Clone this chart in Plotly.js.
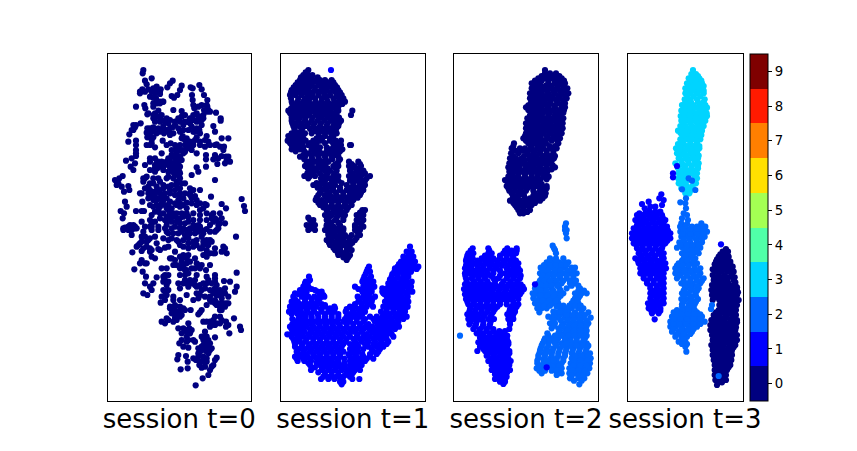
<!DOCTYPE html>
<html><head><meta charset="utf-8">
<script src="https://cdn.plot.ly/plotly-3.0.1.min.js"></script>
<style>html,body{margin:0;padding:0;background:#fff}</style></head>
<body><div id="c" style="width:857px;height:451px"></div>
<script>
const classColors=['#000080','#0000ff','#0066ff','#00d4ff','#50ffa8','#a4ff53','#ffe000','#ff7f00','#ff1a00','#7f0000'];
const tickLabels=[0,1,2,3,4,5,6,7,8,9];
const titles=['session t=0','session t=1','session t=2','session t=3'];
const LOW=525; // readings from the lower half carry this offset
// session 0, class 0: x,y readings
const s0Upper=[130,60,128,70,155,85,135,92,140,103,120,125,127,118,145,118,160,115,170,122,182,118,165,130,150,140,160,143,175,128,218,92,210,100,202,112,245,107,240,120,232,135,222,143,215,138,272,112,278,115,276,135,278,150,298,105,305,118,312,135,322,150,108,170,133,165,136,175,160,170,172,160,188,155,142,193,165,190,175,182,185,195,220,180,245,183,255,195,270,205,262,215,283,175,290,190,300,200,312,180,322,170,330,185,348,188,362,205,362,212,
122,220,108,225,100,240,105,232,165,215,180,215,190,228,205,220,218,232,235,205,250,225,275,230,290,215,305,225,298,240,340,228,345,245,142,235,140,248,160,232,155,245,178,245,192,250,220,250,240,245,248,258,
88,253,85,275,108,272,108,285,108,300,142,262,140,285,155,280,165,292,188,272,200,285,212,280,290,262,285,270,320,258,315,270,265,275,255,285,240,285,232,295,248,300,262,295,300,285,315,290,330,285,350,283,365,265,385,265,372,290,
108,310,108,318,78,332,95,325,105,340,92,350,100,360,135,345,150,325,165,325,175,335,185,310,205,325,230,310,225,325,240,320,255,305,275,300,290,310,318,315,318,328,345,315,340,328,352,342,365,318,378,320,390,335,375,340,318,350,222,340,210,350,195,345,180,350,165,345,150,360,165,365,205,365,228,355,240,350,290,352,295,365,275,375,222,370,232,332,215,362,
345,390,68,378,45,390,58,385,55,400,65,410,50,405,85,408,88,420,72,425,135,385,130,395,150,400,180,395,200,385,220,385,240,385,255,400,170,410,150,420,135,415,125,430,190,415,215,405,240,415,270,415,300,420,285,438,333,440,
425,447,432,468,435,483,75,455,80,470,62,483,72,490,68,505,108,483,125,483,132,483,165,440,145,445,180,445,200,445,235,450,260,458,275,460,290,465,127,455,150,465,170,465,195,465,215,475,240,470,260,475,320,465,310,475,365,462,378,475,165,485,190,490,210,490,230,490,280,490,300,495,340,490,360,490,365,505,180,505,155,520,205,510,230,515,125,515,255,520,280,510,300,510,320,510,340,515,350,510,375,520,100,525,85,530,70,535];
const s0UpperMore=[215,300,225,300,215,315,235,340,222,350,238,365,210,335,200,335,185,335,172,355,190,360,205,380,230,395,240,370,225,375,250,310,262,285,280,285,270,290,150,258,160,262,170,250,250,240,255,270,200,240,210,255,300,250,280,245,265,240,290,235,270,220,255,215,310,205,298,212,175,200,200,205,160,205,245,200,280,195,280,165,295,170,305,165,320,165,325,180,170,155,180,160,155,125,180,132,168,145,190,155,
145,430,165,425,180,430,190,435,210,430,225,435,240,440,255,430,210,455,190,450,160,450,250,445,275,445,270,435,170,450,200,475,180,470,230,465,260,490,250,500,265,500,280,525,295,525,300,530,215,500,195,510,200,525,225,500,240,505,320,490,335,505,355,525,360,520,90,525,105,535,155,530,150,510,165,515,250,535,270,535,285,535,225,530];
const s0UpperFill=[195,215,210,235,225,225,235,235,265,215,275,205,285,245,305,210,310,195,320,185,245,265,260,265,270,275,240,300,225,285,160,240,150,235,175,235,190,240,205,245,150,285,155,270,95,240,100,225,300,275,325,275,345,285,360,290,370,300,385,320,380,330,345,325,355,325,245,330,235,320,220,320,215,340,150,335,170,340,180,345,190,340,165,355,210,360,225,365,235,375,130,385,140,380,160,385,175,385,160,400,190,405,205,410,230,405,245,400,270,430,280,420,240,430,225,420,210,420,195,430,180,420,165,430,155,435,145,410,120,430,290,450,300,460,315,462,225,460,205,465,185,460,240,460,250,465,160,470,175,480,205,480,220,490,245,490,300,480,345,505,335,495,215,515,240,520,265,515,330,525,155,495,180,490,200,500,120,130,135,125,170,110,180,125,160,160,180,155,145,190,160,195,170,200,185,210,210,210,225,215,240,215,280,210,295,205];
const s0Lower=[70,15,85,15,100,10,105,5,95,30,130,20,150,5,175,15,165,35,200,20,215,40,190,40,240,10,260,15,280,10,300,10,320,12,350,15,408,35,
145,45,125,50,115,60,130,70,150,70,175,72,205,65,225,80,235,50,250,45,265,40,290,45,305,35,330,45,300,70,320,75,345,85,370,65,380,85,97,82,
125,105,135,115,155,95,165,100,210,100,245,100,265,90,285,100,320,95,340,85,120,115,140,115,185,130,220,120,240,125,255,135,290,115,300,130,318,135,330,120,410,143,103,133,128,140,138,155,170,157,
195,150,205,150,190,170,200,180,235,175,255,165,285,165,265,185,290,185,320,155,345,150,345,160,372,168,390,170,135,175,150,185,160,175,130,205,142,210,155,195,195,200,240,190,310,175,305,195,335,175,350,180,410,185,405,200,340,205,360,195,375,190,350,195,365,208,
185,215,195,225,182,233,220,225,240,225,260,210,280,225,295,220,330,215,345,225,365,220,380,235,385,215,355,210,372,235,
210,245,220,255,240,245,255,255,272,255,320,240,330,225,355,235,360,255,305,255,295,268,225,270,240,275,200,280,185,290,195,295,220,290,
235,310,245,270,265,295,310,290,330,290,345,300,360,295,378,290,378,305,402,280,420,305,423,315,388,325,330,305,
245,325,260,320,275,315,265,345,285,350,318,335,310,345,345,337,238,355,250,365,265,368,305,365,320,370,330,375,315,352,325,358,318,378,
235,390,232,403,258,393,295,385,310,395,350,398,345,405,288,405,298,420,320,410,263,410,263,430,242,433,305,428,340,420,330,435,325,450,308,460,287,481];
const s0LowerMore=[75,8,90,5,95,15,110,10,155,15,135,5,175,5,195,10,205,25,220,25,215,10,235,25,245,20,255,30,270,25,285,25,295,20,310,25,305,15,330,20,345,20,355,10,230,45,240,60,265,55,280,50,310,50,325,60,335,50,320,45,310,60,345,70,330,85,310,90,320,85,365,80,375,70,155,75,140,65,125,78,120,55,110,65,180,75,195,68,150,80,215,100,250,90,260,100,240,130,245,110,295,120,305,120,230,120,275,130,265,145,255,150,250,175,260,175,275,175,285,180,270,165,300,180,320,175,315,190,345,190,355,200,365,205,375,205,350,210,335,230,345,235,365,235,375,245,385,235,330,195,195,165,205,170,190,195,200,210,220,215,210,250,225,245,235,265,230,260,215,265,240,260,205,285,225,280,300,262,320,290,335,300,350,295,365,285,385,300,340,285,260,315,270,325,250,310,268,310,280,345,260,350,315,320,305,335,325,345,310,360,335,370,320,360,305,375,295,395,310,410,320,400,280,400,300,410,315,425,335,425];
const s0LowerFill=[135,35,150,40,125,35,140,50,170,55,205,45,250,65,265,70,280,65,290,60,305,70,240,95,225,105,260,115,270,110,250,125,240,150,260,135,290,150,285,130,345,170,325,165,200,130,190,155,205,195,300,210,290,205,315,215,225,240,250,250,230,285,350,240,360,245,365,255,360,275,345,275,320,335,330,355,315,370,300,380,295,370,325,385,260,335,245,345];
// rows: y, then x readings along that row
const s1Navy=[[60,100],[75,85,100,112],[90,75,90,105,120,135,150,170],[105,62,80,95,110,130,150,165,180],[120,50,65,85,100,120,138,155,175,190],[135,45,62,80,98,112,130,148,165,185,200],[155,50,68,85,100,122,140,158,178,195,210],[170,55,72,90,115,135,155,175,190],[182,40,60,78,95,110,130,150,165,190,232],[195,50,65,85,100,125,145,170,185,228],[212,50,70,90,110,128,148,168,185,198],[228,55,72,92,115,135,155,175,190],[243,60,78,120,140,160,178],[258,40,58,78,132,150,175],[272,38,55,72,92,115,135,165,182,198],[285,50,70,100,120,185,198,225,228],[298,50,75,110,125,165,185,202],[310,100,120,140,165,190],[320,75,90,110,130,150,170,190],[335,100,120,140,160,190,222,250],[348,90,110,130,145,175,190,222,238,258],[362,105,125,150,165,185,225,245,265],[378,88,105,120,148,175,190,222,240,258,285],[392,140,150,175,190,225,245,265,270],[405,115,135,160,180,215,235,255,270],[420,140,155,175,195,215,235,250,265],[435,130,148,165,185,205,225,240,255],[450,122,140,160,180,200,220,235],[465,135,150,170,190,210,230],[480,155,175,195,215,262,270],[495,150,170,190,210,245,265],[510,105,115,155,180,205,245,265],[525,95,108,120,155,170,195,240,260],
[530,100,115,155,175,195,240,265],[540,100,120,150,170,190,205,240,255],[555,160,175,195,210,230,255],[570,155,170,190,205,225,240],[585,165,185,205,225],[600,180,195,215,230],[615,190,205,225],[630,215],
[67,92],[82,78,93,108,128],[97,68,83,98,113,128,143,160,175],[112,56,72,88,103,120,140,158,172,186],[127,48,58,75,92,110,129,146,165,182,195],[145,48,70,90,105,120,140,155,175,192,205],[162,52,62,78,95,110,128,148,166,185,202],[176,48,65,82,102,125,145,165,182],[189,45,70,88,103,120,140,158,178],[203,50,58,75,92,112,135,158,178,192],[220,52,60,80,100,118,138,158,178,192],[236,58,82,105,128,148,168,184],[250,50,68,90,110,130,150,168,185],[265,48,65,85,125,142,165],[279,45,62,82,105,125,150,174,190],[292,62,85,110,135,155,175,195],[304,62,88,118,132,155,178,195],[315,85,110,130,152,178],[328,88,112,132,152,172,195],[342,95,110,132,152,182,230,255],[355,98,118,140,158,182,230,252],[370,97,115,135,158,178,232,252,270],[385,100,138,162,182,232,250,275],[399,125,148,170,200,235,255],[413,128,150,170,195,225,245,262],[428,135,162,182,205,225,245,258],[443,125,155,172,195,215,232,248],[458,130,150,170,190,210,228],[472,145,162,182,200,220],[488,160,182,202,255],[503,100,162,185,205,255],[518,112,168,190,250],[535,108,160,185,205,250],[548,160,180,198,248],[563,165,185,205,222,245],[578,162,180,198,215,232],[593,175,195,215],[608,188,200,215],[622,205,220]];
const s1Blue=[[590,405],[605,395,410],[620,385,400,415],[635,378,392,408,420],[650,282,368,385,400,415,430],[665,275,285,358,375,392,408],[680,268,288,102,350,368,385,400],[695,100,92,262,278,295,345,360,378,395,410],[710,85,100,240,265,282,298,340,355,372,390,408],[725,80,95,128,140,262,275,290,322,338,352,368,385,402,412],[740,55,80,100,118,135,148,248,265,282,300,335,350,365,380,398],[755,50,68,90,110,128,250,270,290,330,348,365,385,400],[770,45,62,85,105,125,150,178,225,240,260,275,294,325,345,365,380,398],[785,42,58,78,98,118,140,160,178,212,235,255,270,318,335,355,375,390],[800,75,92,110,130,150,170,190,215,235,255,285,305,322,342,360,378,395],[815,62,82,100,122,142,162,182,205,225,245,265,300,318,335,352,370],[830,45,60,78,95,115,135,155,175,195,215,235,255,272,292,312,330,350,372],[845,55,72,88,110,130,150,170,190,210,235,260,290,310,328,345],[853,37],[860,50,68,85,105,125,145,165,185,205,225,245,265,285,305,325,355],[875,58,75,92,115,135,155,175,195,212,240,260,280,300,320,340],[890,60,80,100,120,140,160,180,200,235,250,280,305,325],[905,65,85,105,125,145,165,185,205,235,250,295,310],[920,60,78,98,118,135,155,175,195,225,245,265,285],[933,68,88,108,130,150,170,190,225,245,270],[945,105,135,155,175,195,225,245,260],[960,108,140,160,180,200,222,240,255],[975,150,170,190,210,230],[987,138,160,178,200,232,253],[1003,200],[60,168],
[612,402],[628,392,408],[642,372,385,400,414],[657,278,362,380,396,412,425],[672,272,352,368,385,400],[688,265,280,345,360,378,392],[702,95,270,287,350,368,385,402],[717,90,110,250,272,290,330,346,362,380,400],[732,70,88,135,268,282,328,345,360,376,395],[747,60,90,110,128,255,275,292,340,358,372,390],[762,55,75,98,118,140,240,260,280,338,355,375,392],[777,52,72,95,115,138,165,215,232,250,268,335,355,372,390],[792,50,68,88,108,128,150,170,190,225,245,262,328,345,365,384],[807,52,70,90,110,130,150,170,190,210,225,245,270,295,312,330,350,368,385],[822,52,72,90,110,132,152,172,192,215,235,255,280,308,325,342,360],[837,50,68,85,105,125,145,165,185,205,225,245,265,282,302,320,340,360],[852,48,65,80,100,120,140,160,180,200,222,248,275,300,318,337,350],[867,55,72,95,115,135,155,175,195,215,235,255,275,295,315,335],[882,60,82,105,125,145,165,185,205,225,245,270,295,315,335],[897,70,90,110,130,150,170,190,225,243,265,290,315],[912,72,92,115,135,155,175,195,220,240,262,285,305],[926,65,85,105,125,145,165,185,208,235,255,275,295],[939,100,125,145,165,185,208,235,255],[952,120,145,165,185,210,235,250],[967,130,150,170,190,215,235],[980,145,165,185,205,225],[995,195,205],
[690,105],[700,90],[720,75,120],[730,60],[745,135],[735,145],[765,150],[775,165,180],[655,360],[700,340],[715,322],[730,325]];
const s2Navy=[[60,285],[70,285,300,318],[85,265,285,305,325,335],[100,245,262,295,315,335,345],[115,245,262,280,300,320,340,352],[130,240,258,275,295,315,335,355],[145,240,258,275,292,310,330,350],[160,242,260,280,300,325,345],[172,228,240,258,275,295,315,335,345],[188,245,262,280,300,320,340],[205,232,250,268,285,305,325,340],[220,228,245,262,282,300,320,338],[235,228,245,265,282,305,322,338],[250,228,245,262,280,300,320,335],[265,220,238,255,272,295,315,330],[280,192,235,252,270,288,325],[295,185,210,225,245,262,280,300,320],[310,183,205,232,250,270,290,310],[325,180,198,215,238,255,275,295,312],[340,178,195,212,240,258,278,300],[352,175,190,208,235,252,270,290,315],[365,178,195,215,235,255,275,292],[380,175,190,205,225,245,262,280,296],[390,165],[395,172,188,205,225,245,265],[408,170,185,205,222,240,262,290],[422,178,195,212,228,250,270,285],[437,190,205,222,250,265,285],[452,180,195,210,228,245,270],[465,195,212,230,245],[480,205,222,240],[490,210,220],
[78,275,292,310,328],[92,255,275,295,315,330,342],[107,252,272,288,305,325,342],[122,250,270,290,310,330,347],[138,248,268,285,305,325,345],[152,250,268,285,302,320,340],[166,235,250,270,290,312,335],[180,235,252,268,288,308,328,342],[196,240,258,275,295,315,332],[212,238,258,275,295,312,330],[228,236,255,272,292,312,330],[242,236,255,272,292,312,330],[258,225,238,255,272,290,310,327],[272,228,245,262,282,305,322],[288,190,242,262,278,298,315],[302,195,218,235,255,272,290,310],[318,190,222,240,260,280,300,315],[332,188,205,225,248,268,288,305],[346,185,202,225,248,268,290,308],[358,185,200,225,245,262,282,305],[372,185,205,225,245,265,285],[388,182,198,215,235,255,272,290],[402,180,195,215,235,255,275],[415,175,195,212,232,250,275,290],[430,185,205,220,255,275,287],[445,188,202,225,240,258,278],[459,190,205,220,238,255],[472,200,220,238],[486,215,232]];
const s2Azure=[[520,348],[530,345],[540,345,350],[550,348],[565,350],[587,308],[600,315],[610,318],[625,300,318,340],[637,290,310,328,345,355],[653,272,290,308,325,345,365,375],[670,270,285,303,320,340,360,380],[685,275,290,310,330,350,370],[700,265,280,295,312,335,360,375],[715,255,270,285,305,328,350,390],[730,248,265,282,300,322,340,375,395,410],[745,250,268,285,305,325,375,385],[760,255,272,290,310,325,365,385],[775,262,275,290,335,350,365,385,400],[787,268,320,340,355,375,395,415],[803,305,322,345,362,380,398,422],[820,300,315,340,360,380,400,415],[835,305,325,345,365,385,405],[850,292,325,345,365,385,405],[865,285,305,325,360,380,405],[880,278,295,315,335,350,370,390,410],[895,272,290,310,330,350,370,390,410],[910,268,285,305,325,345,365,385,405,420],[925,265,282,302,320,340,365,385,405,422],[940,262,280,298,318,335,362,382,402,420],[955,260,278,305,320,335,358,378,398,418],[970,275,325,335,358,375,395,412],[985,360,385,403],[1003,388],[857,30],
[595,312],[633,300,318],[645,282,300,318,335,350],[662,278,295,315,332,352,370],[677,278,295,312,330,350,370],[692,270,282,300,320,340,360,378],[707,262,275,290,305,322,365,385],[722,258,272,290,310,332,385,402],[737,252,272,292,312,332,378,390],[752,260,278,298,318,370,382],[767,265,282,300,340,358,375,392],[795,312,330,350,368,388,405],[811,310,332,352,370,390,410],[827,312,335,355,372,392,410],[842,330,352,372,392,410],[857,295,315,335,355,372,392,410],[872,282,300,320,345,362,380,400],[887,275,295,320,340,360,380,400,415],[902,270,288,308,328,348,368,388,408],[917,265,285,305,325,345,375,395,414],[932,262,282,300,320,340,372,392,412],[947,270,290,312,328,370,390,410],[962,268,285,328,368,385,405],[977,365,385,400],[992,372,395],
[770,320,328],[785,330,310],[800,295],[870,300,315],[866,345],[880,350],[905,295],[930,290,310],[950,290,308,295],[962,305,318],[975,320]];
const s2Blue=[[595,68,115,172,200],[610,55,70,115,125,160,178,198],[625,50,68,95,115,130,150,170,190],[640,50,75,90,110,125,145,165,185,205],[655,45,62,85,100,120,140,170,190,205],[670,45,60,78,95,112,130,165,185,205],[685,48,65,85,105,130,145,170,190,210],[703,45,62,82,100,118,135,155,175,195,212],[717,42,60,78,95,112,130,150,170,190,210,222],[733,45,62,82,100,118,138,155,175,195,210],[747,48,65,85,102,122,140,160,180,205],[763,55,72,90,110,130,150,170,190,205],[777,60,78,95,115,135,180,195],[793,52,68,85,105,125,172,190],[807,55,72,92,115,132,175,190],[823,58,78,100,120,180],[837,70,90,110,130,178],[850,80,100,120,140,155],[863,90,110,130,150,165],[877,85,105,125,145,165,175],[890,90,110,130,150,170],[903,82,105,125,145,165,178],[917,110,130,150,170],[933,115,130,145,165,182],[945,125,140,160,178],[960,125,142,160,180],[973,135,150,168],[987,135,150,165],[1002,160],[703,255],[952,290],
[602,62,118,165,185,200],[617,52,62,105,120,150,170,188],[632,48,62,82,105,122,140,160,180,198],[647,48,65,82,100,118,135,155,175,195],[662,50,72,92,110,130,150,180,198,210],[677,46,70,88,105,122,150,175,195,212],[694,50,72,92,112,135,160,182,202],[710,50,70,90,108,125,145,165,185,205,218],[725,52,70,88,105,125,145,165,185,202,215],[740,52,72,92,110,130,148,168,188,202],[755,52,72,92,112,130,150,170,190],[770,62,82,102,122,142,185,200],[785,58,75,95,112,130,178,195],[800,60,78,100,122,182,188],[815,62,80,100,122,180],[830,75,98,118],[843,88,110,130,148,165],[857,95,118,138,158,172],[870,95,115,135,155,172],[883,95,118,138,158,175],[897,100,120,138,158,172],[910,115,135,158,178],[925,122,140,158,175],[939,132,150,170],[953,130,150,170],[967,140,158,172],[980,142,158,170],[995,150,165]];
const s3Cyan=[[60,213],[72,208,222],[85,200,215,232],[100,195,210,225,240],[115,190,205,222,240],[130,190,205,225,245],[148,188,205,225,248],[165,180,198,215,235,250],[182,178,195,212,232,250],[198,176,195,212,232,255],[212,178,195,215,235,250],[228,175,190,210,230,245],[242,168,185,205,225,240],[255,180,200,220,238],[268,175,195,215,235],[282,168,185,205,225],[295,162,180,200,220,232],[310,165,185,205,225],[325,170,190,210,228],[340,160,180,200,220,230],[355,168,188,208,228],[370,170,188,208,225],[385,168,185,225],[400,170,188,222],[415,178,200],[430,190,202],
[78,215,228],[92,205,222,238],[108,200,215,232,245],[122,196,212,232,245],[139,196,215,235],[156,190,207,228,245],[173,186,205,222,242,255],[190,186,205,222,242,254],[205,185,205,222,242],[220,185,205,225,243],[235,178,198,218,236],[248,175,195,215,232],[262,185,208,228],[275,180,205,225],[288,172,195,215,232],[302,172,190,210,226],[317,175,195,215,230],[332,178,198,218],[347,172,190,210,228],[362,178,198,218],[377,178,198,218],[392,178,195,218],[408,180,195,212],[422,192,205]];
const s3Azure=[[385,200],[392,210],[418,180],[420,220],[457,175],[445,192],[460,190],[475,192],[490,185],[495,195],[505,180],[510,198],[520,178,238],[522,195],[530,210,175,190,235,250],
[530,175,190,225,245],[545,175,192,215,235,255],[560,178,195,212,232,248],[577,172,188,205,225,240],[593,165,182,200,220,235],[610,180,200,215,230],[625,185,200,220],[640,170,190,205,225],[655,160,178,198,218,235],[670,160,178,195,212,235],[685,165,185,205,222,245],[700,178,195,212,235],[715,190,210,230],[730,180,195,220],[747,178,192,208,228],[763,180,200,218],[775,190,215],[787,155,170,190,210,225],[800,150,168,185,205,225,240],[815,145,165,185,205,225,248],[830,145,162,182,205,225],[845,150,170,190,210],[860,160,178,195],[875,170,190],[890,190],[905,193],
[537,183,205,225,245],[552,182,205,225,245],[568,185,203,222,240],[585,175,195,212,230],[601,190,208,225],[617,192,210],[632,180,195,215],[647,165,182,200,218],[662,168,188,208,225],[677,170,195,215,230],[692,185,205,225,240],[708,188,205,225],[722,185,205,225],[738,185,205,222],[755,185,205,222],[769,180,205],[780,165,180,200,218],[793,160,178,198,218,235],[807,155,175,195,215,235],[822,155,172,192,215,235],[837,155,178,198,215],[852,165,185,205],[867,180,185],[882,180,195]];
const s3Blue=[[433,118],[445,112],[450,125],[455,80],[462,60],[475,68],[470,85,100],[465,120],[482,82],[485,100,115],[495,45,60,80,100,120],[510,40,58,75,95,115,130],[525,45,62,80,100,120],[530,135],
[535,35,50,70,90,110,130],[550,30,48,65,85,105,125,145],[565,30,48,68,88,108,128,145],[580,35,52,72,92,112,130],[595,45,62,82,100,120],[610,50,70,90,110,125],[625,40,55,75,95,125],[640,50,70,90,110,130],[655,55,72,92,110,132],[670,55,75,95,115,125],[685,65,85,105,125],[700,75,95,115,125],[715,85,105,125],[730,85,105,125],[745,85,105,125],[760,78,95,115,125],[775,80,95,115],[790,90,110],[808,98],[348,165],[370,153],[382,153],
[490,52,70,90,110],[503,48,65,85,105,122],[518,52,70,90,110,125],[542,40,58,78,98,118,138],[557,38,56,75,95,115,135],[572,40,58,78,98,118,136],[587,44,62,82,102,122],[602,55,72,92,110],[617,60,80,100,118],[632,48,65,85,105,118],[647,60,80,100,120],[662,65,85,102,122],[677,65,85,105,120],[692,75,95,115],[707,85,105,122],[722,95,115],[737,95,115],[752,88,105,122],[767,88,105],[782,88,100,115]];
const s3Navy=[[597,312],[613,295,312],[628,285,302,318],[643,278,295,312,325],[658,272,290,308,328],[675,272,290,308,330],[690,275,292,310,335],[705,270,288,305,325,340],[720,268,285,305,325,345],[735,270,288,308,328,345],[750,272,292,312,332,350],[765,292,312,330,345],[780,290,310,330,342],[795,275,290,310,330,342],[810,268,285,305,325,345],[825,265,282,300,320,340],[840,265,282,302,322,340],[855,270,288,308,325,345],[870,272,290,308,328,345],[885,268,285,305,325,340],[900,272,290,310,330],[915,272,290,310,330],[930,275,292,312,328],[945,278,295,315,325],[960,278,295,315],[975,278,295,312],[990,280,295,312],[1005,285],
[605,302,318],[620,290,308,320],[635,282,298,315,325],[650,280,298,318,332],[665,280,298,318,335],[682,280,300,320,338],[697,280,298,318,340],[712,276,295,315,335,345],[727,278,295,315,335,348],[742,282,300,320,340],[757,300,320,338],[772,300,320,338],[787,282,300,320,338],[802,276,295,315,335],[817,272,292,310,330,345],[832,272,290,310,330,342],[847,278,295,315,332],[862,280,298,318,335],[877,278,295,315,335],[892,280,298,320,335],[907,282,300,320,328],[922,282,300,320],[937,285,302,320],[952,285,305,320],[967,285,305],[982,288,305],[997,290,300]];
const s3Outliers1=[[583,297]];
const s3Outliers2=[[765,270],[777,267],[978,290]];

function pairs(a,dy){const x=[],y=[];for(let i=0;i<a.length;i+=2){x.push(a[i]);y.push(a[i+1]+dy);}return{x,y};}
function rows(r){const x=[],y=[];r.forEach(q=>{for(let i=1;i<q.length;i++){x.push(q[i]);y.push(q[0]);}});return{x,y};}
function merge(groups){const x=[],y=[],c=[];groups.forEach(([g,k])=>{g.x.forEach((v,i)=>{x.push(v);y.push(g.y[i]);c.push(k);});});return{x,y,c};}

const scale=[];classColors.forEach((col,i)=>{scale.push([i/10,col]);scale.push([(i+1)/10,col]);});
const W=857,H=451;
const frames=[[107.5,251,22.5,453],[281,424.5,18,448.5],[454,598,12,444],[627.5,742.5,16.5,361.5]];
const panels=[
 merge([[pairs(s0Upper,0),0],[pairs(s0UpperMore,0),0],[pairs(s0UpperFill,0),0],[pairs(s0Lower,LOW),0],[pairs(s0LowerMore,LOW),0],[pairs(s0LowerFill,LOW),0]]),
 merge([[rows(s1Navy),0],[rows(s1Blue),1]]),
 merge([[rows(s2Navy),0],[rows(s2Azure),2],[rows(s2Blue),1]]),
 merge([[rows(s3Cyan),3],[rows(s3Azure),2],[rows(s3Blue),1],[rows(s3Navy),0],[rows(s3Outliers1),1],[rows(s3Outliers2),2]])
];
const layout={width:W,height:H,margin:{l:0,r:0,t:0,b:0},paper_bgcolor:'#fff',plot_bgcolor:'#fff',showlegend:false,
 font:{family:'DejaVu Sans',color:'#000'}};
const traces=panels.map((p,i)=>{
 const n=i?String(i+1):'';
 const f=frames[i];
 layout['xaxis'+n]={domain:[f[0]/W,f[1]/W],range:[f[2],f[3]],showticklabels:false,ticks:'',showgrid:false,zeroline:false,showline:true,mirror:true,linecolor:'#000',linewidth:1,
  anchor:'y'+n,title:{text:titles[i],font:{size:26,family:'DejaVu Sans',color:'#000'},standoff:8.5}};
 layout['yaxis'+n]={domain:[1-401/H,1-54/H],range:[1053,12],showticklabels:false,ticks:'',showgrid:false,zeroline:false,showline:true,mirror:true,linecolor:'#000',linewidth:1,anchor:'x'+n};
 const m={size:6.2,color:p.c,colorscale:scale,cmin:-0.5,cmax:9.5,line:{width:0},showscale:i===3};
 if(i===3){m.colorbar={x:749.5/W,xanchor:'left',xpad:0,y:1-401/H,yanchor:'bottom',ypad:0,len:347/H,lenmode:'fraction',thickness:18,thicknessmode:'pixels',
  tickmode:'array',tickvals:tickLabels,ticktext:tickLabels.map(String),ticks:'outside',ticklen:4,tickwidth:1,tickcolor:'#000',tickfont:{size:13.3,family:'DejaVu Sans',color:'#000'},outlinecolor:'#000',outlinewidth:1,borderwidth:0};}
 return {type:'scatter',mode:'markers',x:p.x,y:p.y,xaxis:'x'+n,yaxis:'y'+n,marker:m,hoverinfo:'skip'};
});
Plotly.newPlot('c',traces,layout,{staticPlot:true,displayModeBar:false});
</script></body></html>
